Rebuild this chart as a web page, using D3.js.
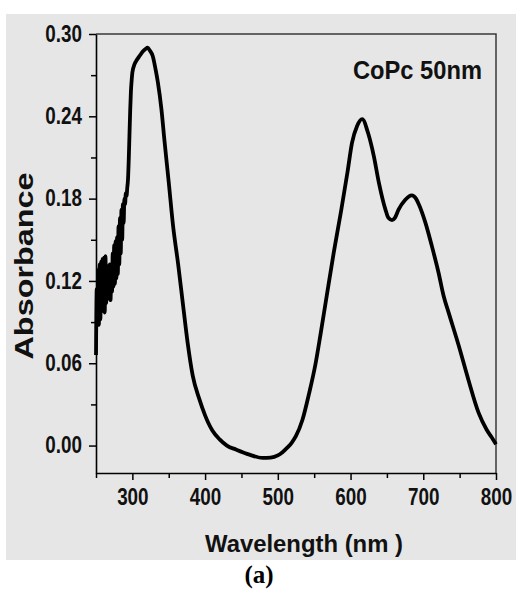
<!DOCTYPE html>
<html>
<head>
<meta charset="utf-8">
<script src="https://cdn.jsdelivr.net/npm/d3@7"></script>
<style>
	body { margin: 0; background: #fff; }
	svg { display: block; }
</style>
</head>
<body>
<div class="plot-container"></div>
<script>
// spectrum (nm, absorbance)
const wavelengths = [
	250, 251, 252, 253, 254, 255, 256, 257, 258, 259,
	260, 261, 262, 263, 264, 265, 266, 267, 268, 269,
	270, 271, 272, 273, 274, 275, 276, 277, 278, 279,
	280, 281, 282, 283, 284, 285, 286, 287, 288, 289,
	290, 291, 292, 293, 294, 295, 296, 297, 298, 299,
	300, 303, 306, 310, 314, 318, 321, 324, 328, 332,
	335, 340, 344, 350, 356, 363, 370, 376, 383, 392,
	400, 404, 410, 420, 430, 443, 461, 479, 490, 500,
	506, 513, 519, 525, 534, 543, 552, 559, 566,
	577, 587, 596, 602, 609, 616, 624, 632, 639, 648,
	652, 657, 661, 666, 675, 684, 690, 694, 703, 712,
	721, 728, 735, 749, 762, 776, 787, 794, 800
];
const absorbance = [
	0.066, 0.114, 0.090, 0.128, 0.088, 0.132, 0.092, 0.134, 0.100, 0.136,
	0.098, 0.137, 0.097, 0.138, 0.104, 0.130, 0.107, 0.131, 0.108, 0.132,
	0.106, 0.130, 0.112, 0.140, 0.116, 0.146, 0.118, 0.149, 0.122, 0.152,
	0.125, 0.160, 0.132, 0.166, 0.140, 0.172, 0.150, 0.176, 0.162, 0.180,
	0.176, 0.184, 0.182, 0.188, 0.194, 0.208, 0.226, 0.244, 0.258, 0.266,
	0.272, 0.278, 0.281, 0.284, 0.287, 0.289, 0.290, 0.288, 0.284, 0.274,
	0.265, 0.245, 0.223, 0.192, 0.160, 0.132, 0.101, 0.075, 0.051, 0.034,
	0.022, 0.017, 0.011, 0.0045, 0.000, -0.003, -0.0066, -0.009, -0.0088, -0.0072,
	-0.005, -0.0015, 0.002, 0.007, 0.019, 0.038, 0.060, 0.082, 0.105,
	0.141, 0.171, 0.200, 0.2206, 0.2330, 0.238, 0.228, 0.211, 0.1915, 0.172,
	0.166, 0.1644, 0.166, 0.172, 0.179, 0.1824, 0.180, 0.1757, 0.1623, 0.145,
	0.126, 0.109, 0.0967, 0.0724, 0.048, 0.024, 0.0117, 0.006, 0.001
];

const xDomain = [250, 800];
const yDomain = [-0.02, 0.30];
const xMajorTicks = [300, 400, 500, 600, 700, 800];
const xMinorTicks = [250, 350, 450, 550, 650, 750];
const yMajorTicks = [0.00, 0.06, 0.12, 0.18, 0.24, 0.30];
const yMinorTicks = [0.03, 0.09, 0.15, 0.21, 0.27];

const sampleName = "CoPc 50nm";
const xTitle = "Wavelength (nm )";
const yTitle = "Absorbance";
const caption = "(a)";

const W = 516, H = 590;
const margin = {top: 34, right: 20, bottom: 117, left: 96};
const width = 496 - margin.left;
const height = 473 - margin.top;
const squeeze = 0.82;   // labels in the picture are horizontally narrow

const svg = d3.select(".plot-container").append("svg")
	.attr("width", W)
	.attr("height", H);

// grey panel behind the chart
svg.append("rect")
	.attr("x", 6).attr("y", 14)
	.attr("width", W - 6).attr("height", 546)
	.attr("fill", "#e6e6e6");

const g = svg.append("g")
	.attr("transform", `translate(${margin.left},${margin.top})`);

const x = d3.scaleLinear().domain(xDomain).range([0, width]);
const y = d3.scaleLinear().domain(yDomain).range([height, 0]);

// top and right frame
g.append("path")
	.attr("d", `M0,0H${width}V${height}`)
	.attr("fill", "none")
	.attr("stroke", "#3a3a3a")
	.attr("stroke-width", 1.5);

const labelFont = "'Liberation Sans', Arial, sans-serif";

function styleAxis(sel) {
	sel.select(".domain").attr("stroke", "#000").attr("stroke-width", 1.6);
	sel.selectAll(".tick line").attr("stroke", "#000").attr("stroke-width", 1.5);
	sel.selectAll("text")
		.attr("fill", "#111")
		.style("font-family", labelFont)
		.style("font-weight", "bold")
		.style("font-size", "23px");
}

// x axis
const xAxisG = g.append("g")
	.attr("transform", `translate(0,${height})`)
	.call(d3.axisBottom(x).tickValues(xMajorTicks).tickFormat(d3.format("d"))
		.tickSize(7).tickSizeOuter(0).tickPadding(9));
styleAxis(xAxisG);
xAxisG.selectAll(".tick text")
	.attr("transform", `scale(${squeeze},1)`);

g.append("g")
	.attr("transform", `translate(0,${height})`)
	.call(d3.axisBottom(x).tickValues(xMinorTicks).tickFormat("").tickSize(5).tickSizeOuter(0))
	.call(s => { s.select(".domain").remove(); s.selectAll("line").attr("stroke", "#000").attr("stroke-width", 1.5); });

// y axis
const yAxisG = g.append("g")
	.call(d3.axisLeft(y).tickValues(yMajorTicks).tickFormat(d3.format(".2f"))
		.tickSize(7).tickSizeOuter(0).tickPadding(7));
styleAxis(yAxisG);
yAxisG.selectAll(".tick text")
	.attr("x", -14 / squeeze)
	.attr("transform", `scale(${squeeze},1)`);

g.append("g")
	.call(d3.axisLeft(y).tickValues(yMinorTicks).tickFormat("").tickSize(5).tickSizeOuter(0))
	.call(s => { s.select(".domain").remove(); s.selectAll("line").attr("stroke", "#000").attr("stroke-width", 1.5); });

// spectrum
const data = wavelengths.map((w, i) => ({w: w, a: absorbance[i]}));
const line = d3.line()
	.x(d => x(d.w))
	.y(d => y(d.a))
	.curve(d3.curveMonotoneX);

g.append("path")
	.datum(data)
	.attr("d", line)
	.attr("fill", "none")
	.attr("stroke", "#000")
	.attr("stroke-width", 3.8)
	.attr("stroke-linejoin", "round");

// titles
svg.append("text")
	.attr("x", 304).attr("y", 552)
	.attr("text-anchor", "middle")
	.attr("textLength", 198)
	.attr("lengthAdjust", "spacingAndGlyphs")
	.style("font-family", labelFont)
	.style("font-weight", "bold")
	.style("font-size", "24px")
	.attr("fill", "#111")
	.text(xTitle);

svg.append("text")
	.attr("transform", "translate(33,266) rotate(-90)")
	.attr("text-anchor", "middle")
	.attr("textLength", 187)
	.attr("lengthAdjust", "spacingAndGlyphs")
	.style("font-family", labelFont)
	.style("font-weight", "bold")
	.style("font-size", "25px")
	.attr("fill", "#111")
	.text(yTitle);

svg.append("text")
	.attr("x", 353).attr("y", 79)
	.attr("textLength", 129)
	.attr("lengthAdjust", "spacingAndGlyphs")
	.style("font-family", labelFont)
	.style("font-weight", "bold")
	.style("font-size", "25px")
	.attr("fill", "#111")
	.text(sampleName);

svg.append("text")
	.attr("x", 259).attr("y", 583)
	.attr("text-anchor", "middle")
	.style("font-family", "'Liberation Serif', 'Times New Roman', serif")
	.style("font-weight", "bold")
	.style("font-size", "25px")
	.attr("fill", "#000")
	.text(caption);
</script>
</body>
</html>
